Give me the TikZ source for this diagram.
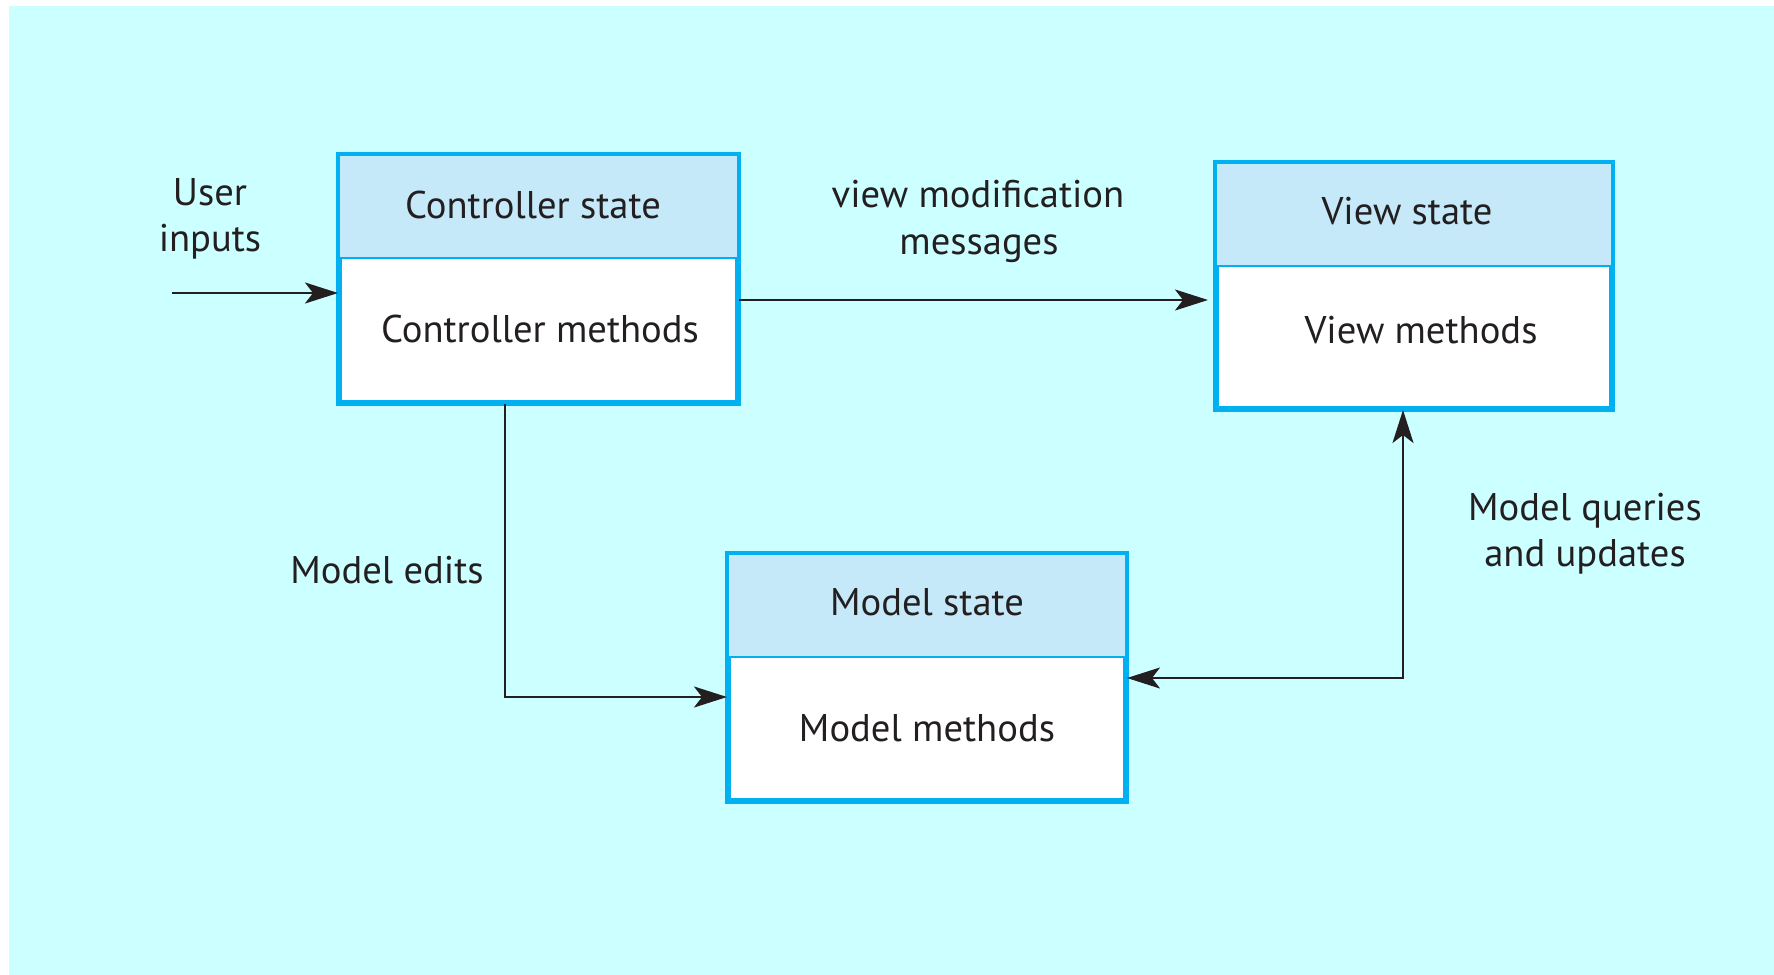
\documentclass[tikz,border=0pt]{standalone}
\usepackage{fontspec}
\setmainfont{PT Sans}
\usetikzlibrary{arrows.meta,calc}
\definecolor{bgc}{HTML}{CCFFFF}
\definecolor{hdrc}{HTML}{C5E9F8}
\definecolor{bordc}{HTML}{00B0F0}
\definecolor{ink}{HTML}{231F20}
\tikzset{
  boxbody/.style={draw=bordc, line width=2pt, fill=white, inner sep=0pt},
  hdr/.style={fill=hdrc},
  divider/.style={draw=bordc, line width=1pt},
  bord/.style={draw=bordc, line width=2pt},
  lbl/.style={anchor=base, inner sep=0pt, text=ink, font=\fontsize{19.3}{23}\selectfont},
  tip/.style={Stealth[length=16.5pt, width=10.5pt, inset=4pt]},
  arr/.style={draw=ink, line width=1.1pt, -{Stealth[length=16.5pt, width=10.5pt, inset=4pt]}},
  darr/.style={draw=ink, line width=1.1pt, {Stealth[length=16.5pt, width=10.5pt, inset=4pt]}-{Stealth[length=16.5pt, width=10.5pt, inset=4pt]}}
}
\begin{document}
\begin{tikzpicture}[x=0.5pt, y=-0.5pt]
\useasboundingbox (0,0) rectangle (1774,975);
\fill[bgc] (9,6) rectangle (1774,975);

% boxes
\node[boxbody, minimum width=198.5pt, minimum height=123pt] (ctrl) at (538.5,279) {};
\node[boxbody, minimum width=197pt, minimum height=122pt] (view) at (1414,286) {};
\node[boxbody, minimum width=198pt, minimum height=122.5pt] (model) at (927,677.5) {};

\foreach \b in {ctrl,view,model}{
  \fill[hdr] (\b.north west) rectangle ($(\b.north east)+(0,-52pt)$);
  \draw[divider] ($(\b.north west)+(0,-52pt)$) -- ($(\b.north east)+(0,-52pt)$);
  \draw[bord] (\b.north west) rectangle (\b.south east);
}

% box texts
\node[lbl] (ctrlstate) at (533,218) {Controller state};
\node[lbl] (ctrlmeth) at (540,342) {Controller methods};
\node[lbl] (viewstate) at (1407,224) {View state};
\node[lbl] (viewmeth) at (1421,343) {View methods};
\node[lbl] (modelstate) at (927,615) {Model state};
\node[lbl] (modelmeth) at (927,741) {Model methods};

% labels
\node[lbl] (user1) at (210,205) {User};
\node[lbl] (user2) at (210,251) {inputs};
\node[lbl] (vm1) at (978,207) {view modification};
\node[lbl] (vm2) at (979,254) {messages};
\node[lbl] (edits) at (387,583) {Model edits};
\node[lbl] (mq1) at (1585,520) {Model queries};
\node[lbl] (mq2) at (1585,566) {and updates};

% connectors
\coordinate (uin) at (172,293);
\coordinate (vmy) at (0,300);
\coordinate (vmend) at (1208,300);
\coordinate (ed) at (505,697);
\coordinate (q) at (1403,678);

\draw[arr] (uin) -- (ctrl.west |- uin);
\draw[arr] (ctrl.east |- vmy) -- (vmend);
\draw[arr] (ctrl.south -| ed) |- (model.west |- ed);
\draw[darr] (model.east |- q) -| (view.south -| q);
\end{tikzpicture}
\end{document}
